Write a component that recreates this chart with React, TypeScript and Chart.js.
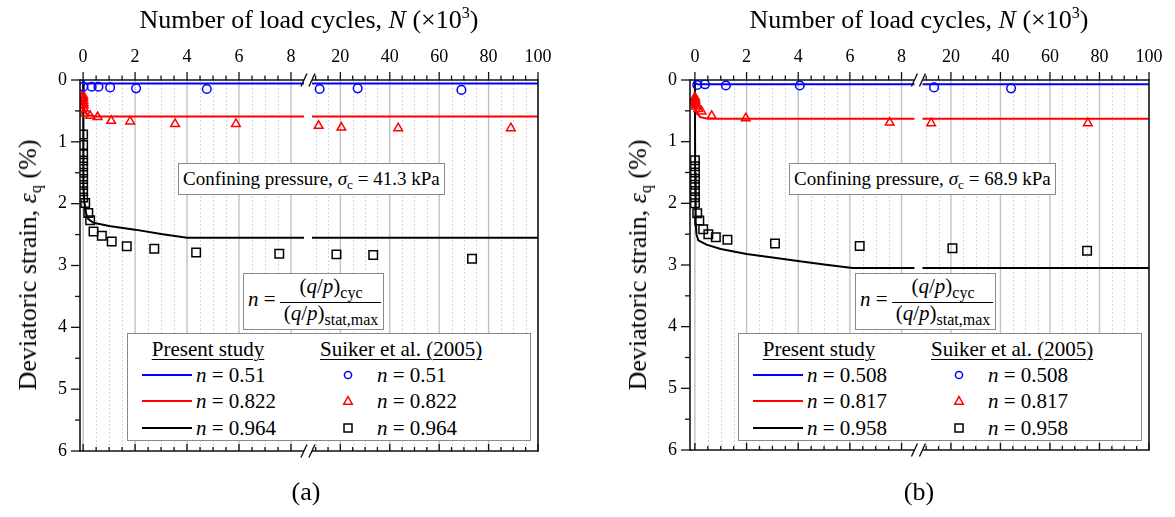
import React, { useEffect, useRef } from "react";
import { Chart, registerables, LinearScale } from "chart.js";

Chart.register(...registerables);

const FONT = '"Liberation Serif", "Times New Roman", Times, serif';
const BLUE = "#0000ff";
const RED = "#ff0000";
const BLACK = "#000000";

// ---------- axis ticks ----------
const BREAK = 8.5;
const xTickValues = [0, 2, 4, 6, 8, 20, 40, 60, 80, 100];
const xMinorLeft = [0.5, 1, 1.5, 2.5, 3, 3.5, 4.5, 5, 5.5, 6.5, 7, 7.5];
const xMinorRight = [10, 15, 25, 30, 35, 45, 50, 55, 65, 70, 75, 85, 90, 95];
const yTickValues = [0, 1, 2, 3, 4, 5, 6];
const yMinor = [0.5, 1.5, 2.5, 3.5, 4.5, 5.5];

// ---------- panel (a) : 41.3 kPa ----------
const aLegendN = ["0.51", "0.822", "0.964"];
const aConfining = "41.3";
const aBlueLineN = [0, 0.02, 0.1, 8.5, 8.51, 100];
const aBlueLineE = [0, 0.04, 0.055, 0.055, 0.055, 0.055];
const aRedLineN = [0, 0.01, 0.03, 0.08, 0.2, 0.5, 8.5, 8.51, 100];
const aRedLineE = [0.22, 0.35, 0.45, 0.53, 0.57, 0.59, 0.59, 0.59, 0.59];
const aBlackLineN = [0, 0.005, 0.01, 0.02, 0.04, 0.08, 0.12, 0.2, 0.4, 1, 2, 3, 4, 8.5, 8.51, 100];
const aBlackLineE = [0, 0.8, 1.3, 1.7, 1.95, 2.05, 2.17, 2.25, 2.31, 2.36, 2.42, 2.49, 2.55, 2.55, 2.55, 2.55];
const aBlueDotN = [0.01, 0.33, 0.59, 1.04, 2.04, 4.76, 11.6, 27, 69];
const aBlueDotE = [0.11, 0.11, 0.11, 0.12, 0.135, 0.145, 0.145, 0.135, 0.16];
const aRedTriN = [0, 0.005, 0.01, 0.015, 0.02, 0.03, 0.04, 0.27, 0.56, 1.08, 1.81, 3.54, 5.88, 11.2, 20.4, 43.4, 89];
const aRedTriE = [0.25, 0.29, 0.33, 0.37, 0.41, 0.46, 0.54, 0.58, 0.6, 0.66, 0.67, 0.71, 0.71, 0.74, 0.77, 0.78, 0.78];
const aBlackSqN = [0, 0, 0, 0, 0, 0, 0, 0, 0, 0, 0.08, 0.2, 0.27, 0.4, 0.72, 1.1, 1.68, 2.74, 4.35, 7.55, 18.4, 33.3, 73.3];
const aBlackSqE = [0.88, 1.05, 1.2, 1.3, 1.4, 1.5, 1.6, 1.7, 1.8, 1.9, 1.99, 2.15, 2.27, 2.45, 2.52, 2.61, 2.69, 2.73, 2.79, 2.81, 2.82, 2.83, 2.89];

// ---------- panel (b) : 68.9 kPa ----------
const bLegendN = ["0.508", "0.817", "0.958"];
const bConfining = "68.9";
const bBlueLineN = [0, 0.02, 0.1, 8.5, 8.51, 100];
const bBlueLineE = [0, 0.05, 0.07, 0.07, 0.07, 0.07];
const bRedLineN = [0, 0.01, 0.03, 0.08, 0.2, 0.5, 8.5, 8.51, 100];
const bRedLineE = [0.25, 0.36, 0.46, 0.54, 0.6, 0.63, 0.63, 0.63, 0.63];
const bBlackLineN = [0, 0.01, 0.03, 0.06, 0.13, 0.45, 1, 2, 3, 4.06, 5, 6.1, 8.5, 8.51, 100];
const bBlackLineE = [0, 1.5, 2.3, 2.5, 2.6, 2.67, 2.74, 2.82, 2.88, 2.94, 2.99, 3.05, 3.05, 3.05, 3.05];
const bBlueDotN = [0.09, 0.39, 1.2, 4.06, 13.2, 44.3];
const bBlueDotE = [0.08, 0.07, 0.09, 0.09, 0.12, 0.135];
const bRedTriN = [0, 0.01, 0.02, 0.03, 0.04, 0.05, 0.13, 0.26, 0.65, 1.97, 7.54, 12, 75.3];
const bRedTriE = [0.28, 0.31, 0.34, 0.37, 0.4, 0.43, 0.47, 0.51, 0.58, 0.62, 0.69, 0.7, 0.7];
const bBlackSqN = [0, 0, 0, 0, 0, 0, 0, 0, 0.09, 0.17, 0.32, 0.52, 0.81, 1.26, 3.1, 6.38, 20.6, 75];
const bBlackSqE = [1.3, 1.4, 1.5, 1.6, 1.7, 1.8, 1.9, 2.0, 2.16, 2.28, 2.42, 2.5, 2.55, 2.59, 2.65, 2.69, 2.73, 2.77];

// ---------- broken linear scale ----------
class BrokenLinearScale extends (LinearScale as any) {
  static id = "brokenLinear";
  static defaults = {};
  seg() {
    const o: any = (this as any).options;
    const self: any = this;
    const lw = self.width * o.leftFrac;
    return { lw, rs: self.left + lw + o.gapPx, rw: self.width - lw - o.gapPx, b: o.breakAt as number };
  }
  getPixelForValue(value: any) {
    const self: any = this;
    if (value === null || value === undefined || Number.isNaN(+value)) return NaN;
    const { lw, rs, rw, b } = this.seg();
    if (value <= b) return self.left + ((value - self.min) / (b - self.min)) * lw;
    return rs + ((value - b) / (self.max - b)) * rw;
  }
  getValueForPixel(pixel: number) {
    const self: any = this;
    const { lw, rs, rw, b } = this.seg();
    if (pixel <= self.left + lw) return self.min + ((pixel - self.left) / lw) * (b - self.min);
    return b + ((pixel - rs) / rw) * (self.max - b);
  }
}
Chart.register(BrokenLinearScale as any);

function withBreak(xs: number[], ys: number[]) {
  const out: any[] = [];
  for (let i = 0; i < xs.length; i++) {
    if (i > 0 && xs[i - 1] <= BREAK && xs[i] > BREAK) out.push({ x: BREAK, y: null });
    out.push({ x: xs[i], y: ys[i] });
  }
  return out;
}

function lineDs(xs: number[], ys: number[], color: string) {
  return {
    data: withBreak(xs, ys),
    showLine: true,
    borderColor: color,
    backgroundColor: color,
    borderWidth: 2,
    pointRadius: 0,
    fill: false,
    spanGaps: false,
    tension: 0,
    order: 2,
  };
}

function markerDs(xs: number[], ys: number[], color: string, style: string, radius: number) {
  return {
    data: xs.map((x, i) => ({ x, y: ys[i] })),
    showLine: false,
    pointStyle: style,
    pointRadius: radius,
    borderColor: color,
    backgroundColor: "rgba(0,0,0,0)",
    pointBorderWidth: 1.5,
    borderWidth: 1.5,
    order: 1,
  };
}

const framePlugin = {
  id: "brokenFrame",
  beforeDatasetsDraw(chart: any) {
    const { ctx, chartArea } = chart;
    const { top, bottom } = chartArea;
    const xs = chart.scales.x;
    ctx.save();
    ctx.lineWidth = 1;
    ctx.strokeStyle = "#d6d6d6";
    ctx.setLineDash([2, 2]);
    for (const v of [...xMinorLeft, ...xMinorRight]) {
      const px = Math.round(xs.getPixelForValue(v)) + 0.5;
      ctx.beginPath();
      ctx.moveTo(px, top);
      ctx.lineTo(px, bottom);
      ctx.stroke();
    }
    ctx.setLineDash([]);
    ctx.strokeStyle = "#c2c2c2";
    ctx.lineWidth = 1.4;
    for (const v of xTickValues) {
      if (v >= 100) continue;
      const px = xs.getPixelForValue(v);
      ctx.beginPath();
      ctx.moveTo(px, top);
      ctx.lineTo(px, bottom);
      ctx.stroke();
    }
    ctx.restore();
  },
  afterDatasetsDraw(chart: any) {
    const { ctx, chartArea } = chart;
    const { left, right, top, bottom } = chartArea;
    const xs = chart.scales.x;
    const ys = chart.scales.y;
    const bp1 = xs.getPixelForValue(BREAK);
    const bp2 = xs.getPixelForValue(BREAK + 1e-9);
    const seg = (x1: number, y1: number, x2: number, y2: number) => {
      ctx.beginPath();
      ctx.moveTo(x1, y1);
      ctx.lineTo(x2, y2);
      ctx.stroke();
    };
    ctx.save();
    ctx.strokeStyle = "#111";
    ctx.lineWidth = 1.6;
    seg(left, top - 0.8, left, bottom + 0.8);
    seg(right, top - 0.8, right, bottom + 0.8);
    for (const y of [top, bottom]) {
      seg(left, y, bp1, y);
      seg(bp2, y, right, y);
    }
    ctx.lineWidth = 1.3;
    for (const v of xTickValues) {
      const px = xs.getPixelForValue(v);
      seg(px, top, px, top - 8);
      seg(px, bottom, px, bottom - 7);
    }
    for (const v of [...xMinorLeft, ...xMinorRight]) {
      const px = xs.getPixelForValue(v);
      seg(px, top, px, top - 4.5);
      seg(px, bottom, px, bottom - 4);
    }
    for (const v of yTickValues) {
      const py = ys.getPixelForValue(v);
      seg(left, py, left - 9, py);
    }
    for (const v of yMinor) {
      const py = ys.getPixelForValue(v);
      seg(left, py, left - 5, py);
    }
    ctx.lineWidth = 1.4;
    for (const bx of [bp1, bp2]) {
      for (const y of [top, bottom]) seg(bx - 3, y + 6.5, bx + 3, y - 6.5);
    }
    ctx.restore();
  },
};

type PanelCfg = {
  canvasLeft: number;
  canvasWidth: number;
  yAxisWidth: number;
  padRight: number;
  padBottom: number;
  xMin: number;
  datasets: any[];
};

function PanelChart({ cfg }: { cfg: PanelCfg }) {
  const ref = useRef<HTMLCanvasElement | null>(null);
  useEffect(() => {
    if (!ref.current) return;
    const chart = new Chart(ref.current, {
      type: "scatter",
      data: { datasets: cfg.datasets },
      plugins: [framePlugin as any],
      options: {
        animation: false,
        responsive: false,
        devicePixelRatio: 1,
        events: [],
        layout: { padding: { left: 0, top: 0, right: cfg.padRight, bottom: cfg.padBottom } },
        plugins: { legend: { display: false }, tooltip: { enabled: false } },
        scales: {
          x: {
            type: "brokenLinear",
            position: "top",
            min: cfg.xMin,
            max: 100,
            bounds: "data",
            leftFrac: 0.489,
            gapPx: 8,
            breakAt: BREAK,
            afterBuildTicks: (s: any) => {
              s.ticks = xTickValues.map((v) => ({ value: v }));
            },
            afterFit: (s: any) => {
              s.height = 80;
            },
            grid: { display: false, drawTicks: false },
            border: { display: false },
            ticks: {
              autoSkip: false,
              maxRotation: 0,
              minRotation: 0,
              padding: 12,
              color: "#000",
              font: { family: FONT, size: 18 },
              callback: (v: any) => String(v),
            },
          } as any,
          y: {
            type: "linear",
            position: "left",
            min: 0,
            max: 6,
            reverse: true,
            afterBuildTicks: (s: any) => {
              s.ticks = yTickValues.map((v) => ({ value: v }));
            },
            afterFit: (s: any) => {
              s.width = cfg.yAxisWidth;
            },
            grid: { display: false, drawTicks: false },
            border: { display: false },
            ticks: {
              padding: 13,
              color: "#000",
              font: { family: FONT, size: 18 },
              callback: (v: any) => String(v),
            },
          },
        },
      } as any,
    });
    return () => chart.destroy();
  }, []);
  return (
    <canvas
      ref={ref}
      width={cfg.canvasWidth}
      height={517}
      style={{ position: "absolute", left: cfg.canvasLeft, top: 0, width: cfg.canvasWidth, height: 517 }}
    />
  );
}

const txt: React.CSSProperties = { fontFamily: FONT, color: "#000", whiteSpace: "nowrap" };

function XTitle({ cx }: { cx: number }) {
  return (
    <div style={{ ...txt, position: "absolute", left: cx, top: 5, transform: "translateX(-50%)", fontSize: 26, lineHeight: "30px" }}>
      Number of load cycles, <i>N</i> (×10
      <sup style={{ fontSize: "0.62em", lineHeight: 0, verticalAlign: "0.6em" }}>3</sup>)
    </div>
  );
}

function YTitle({ cx, cy }: { cx: number; cy: number }) {
  return (
    <div
      style={{
        ...txt,
        position: "absolute",
        left: cx,
        top: cy,
        transform: "translate(-50%,-50%) rotate(-90deg)",
        fontSize: 26,
        lineHeight: "30px",
      }}
    >
      Deviatoric strain, <i>ε</i>
      <sub style={{ fontSize: "0.62em", lineHeight: 0, verticalAlign: "-0.3em" }}>q</sub> (%)
    </div>
  );
}

function ConfBox({ left, top, value }: { left: number; top: number; value: string }) {
  return (
    <div
      style={{
        ...txt,
        position: "absolute",
        left,
        top,
        fontSize: 19,
        lineHeight: "28px",
        padding: "1px 4px",
        border: "1px solid #8a8a8a",
        background: "#fff",
      }}
    >
      Confining pressure, <i>σ</i>
      <sub style={{ fontSize: "0.7em", lineHeight: 0, verticalAlign: "-0.3em" }}>c</sub> = {value} kPa
    </div>
  );
}

function FormulaBox({ left, top }: { left: number; top: number }) {
  const sub: React.CSSProperties = { fontSize: 16, lineHeight: 0, verticalAlign: "-0.3em" };
  return (
    <div
      style={{
        ...txt,
        position: "absolute",
        left,
        top,
        width: 141,
        height: 57,
        boxSizing: "border-box",
        border: "1px solid #8a8a8a",
        background: "#fff",
        fontSize: 21,
        lineHeight: "24px",
      }}
    >
      <div style={{ position: "absolute", left: 4, top: 13 }}>
        <i>n</i> =
      </div>
      <div style={{ position: "absolute", left: 87, top: 0, transform: "translateX(-50%)" }}>
        (<i>q</i>/<i>p</i>)<span style={sub}>cyc</span>
      </div>
      <div style={{ position: "absolute", left: 36, top: 28, width: 101, height: 1.3, background: "#000" }} />
      <div style={{ position: "absolute", left: 87, top: 27, transform: "translateX(-50%)" }}>
        (<i>q</i>/<i>p</i>)<span style={sub}>stat,max</span>
      </div>
    </div>
  );
}

function Marker({ kind, color }: { kind: string; color: string }) {
  return (
    <svg width={14} height={14} style={{ display: "block" }}>
      {kind === "circle" && <circle cx={7} cy={7} r={3.6} fill="none" stroke={color} strokeWidth={1.5} />}
      {kind === "triangle" && <polygon points="7,2.6 11.3,10.2 2.7,10.2" fill="none" stroke={color} strokeWidth={1.5} />}
      {kind === "square" && <rect x={3} y={3} width={8} height={8} fill="none" stroke={color} strokeWidth={1.5} />}
    </svg>
  );
}

function Legend({ left, top, values }: { left: number; top: number; values: string[] }) {
  const rows = [
    { c: BLUE, m: "circle" },
    { c: RED, m: "triangle" },
    { c: BLACK, m: "square" },
  ];
  const rowY = [40.5, 67, 93.5];
  const t: React.CSSProperties = { position: "absolute", transform: "translateY(-50%)", lineHeight: "24px" };
  return (
    <div
      style={{
        ...txt,
        position: "absolute",
        left,
        top,
        width: 404,
        height: 108,
        boxSizing: "border-box",
        border: "1px solid #8a8a8a",
        background: "#fff",
        fontSize: 21,
      }}
    >
      <div
        style={{
          ...t,
          left: 80,
          top: 15,
          transform: "translate(-50%,-50%)",
          textDecoration: "underline",
          textUnderlineOffset: "3px",
          textDecorationThickness: "1px",
        }}
      >
        Present study
      </div>
      <div style={{ ...t, left: 192, top: 15, textDecoration: "underline", textUnderlineOffset: "3px", textDecorationThickness: "1px" }}>
        Suiker et al. (2005)
      </div>
      {rows.map((r, i) => (
        <React.Fragment key={i}>
          <div style={{ position: "absolute", left: 14, top: rowY[i] - 1, width: 50, height: 2, background: r.c }} />
          <div style={{ ...t, left: 68, top: rowY[i] }}>
            <i>n</i> = {values[i]}
          </div>
          <div style={{ position: "absolute", left: 213, top: rowY[i] - 7 }}>
            <Marker kind={r.m} color={r.c} />
          </div>
          <div style={{ ...t, left: 249, top: rowY[i] }}>
            <i>n</i> = {values[i]}
          </div>
        </React.Fragment>
      ))}
    </div>
  );
}

function PanelLabel({ cx, text }: { cx: number; text: string }) {
  return (
    <div style={{ ...txt, position: "absolute", left: cx, top: 492, transform: "translate(-50%,-50%)", fontSize: 26, lineHeight: "30px" }}>
      {text}
    </div>
  );
}

const panelA: PanelCfg = {
  canvasLeft: 0,
  canvasWidth: 590,
  yAxisWidth: 80,
  padRight: 52,
  padBottom: 66,
  xMin: -0.12,
  datasets: [
    markerDs(aBlueDotN, aBlueDotE, BLUE, "circle", 4.3),
    markerDs(aRedTriN, aRedTriE, RED, "triangle", 5),
    markerDs(aBlackSqN, aBlackSqE, BLACK, "rect", 6),
    lineDs(aBlueLineN, aBlueLineE, BLUE),
    lineDs(aRedLineN, aRedLineE, RED),
    lineDs(aBlackLineN, aBlackLineE, BLACK),
  ],
};

const panelB: PanelCfg = {
  canvasLeft: 590,
  canvasWidth: 585,
  yAxisWidth: 100,
  padRight: 26,
  padBottom: 67,
  xMin: -0.19,
  datasets: [
    markerDs(bBlueDotN, bBlueDotE, BLUE, "circle", 4.3),
    markerDs(bRedTriN, bRedTriE, RED, "triangle", 5),
    markerDs(bBlackSqN, bBlackSqE, BLACK, "rect", 6),
    lineDs(bBlueLineN, bBlueLineE, BLUE),
    lineDs(bRedLineN, bRedLineE, RED),
    lineDs(bBlackLineN, bBlackLineE, BLACK),
  ],
};

export default function App() {
  return (
    <div style={{ position: "absolute", left: 0, top: 0, width: 1175, height: 517, background: "#fff", overflow: "hidden" }}>
      <PanelChart cfg={panelA} />
      <PanelChart cfg={panelB} />

      <XTitle cx={309} />
      <YTitle cx={28} cy={265} />
      <ConfBox left={178} top={163} value={aConfining} />
      <FormulaBox left={243} top={273} />
      <Legend left={127} top={333} values={aLegendN} />
      <PanelLabel cx={306} text="(a)" />

      <XTitle cx={919} />
      <YTitle cx={638} cy={265} />
      <ConfBox left={789} top={163} value={bConfining} />
      <FormulaBox left={855} top={273} />
      <Legend left={738} top={333} values={bLegendN} />
      <PanelLabel cx={919} text="(b)" />
    </div>
  );
}
